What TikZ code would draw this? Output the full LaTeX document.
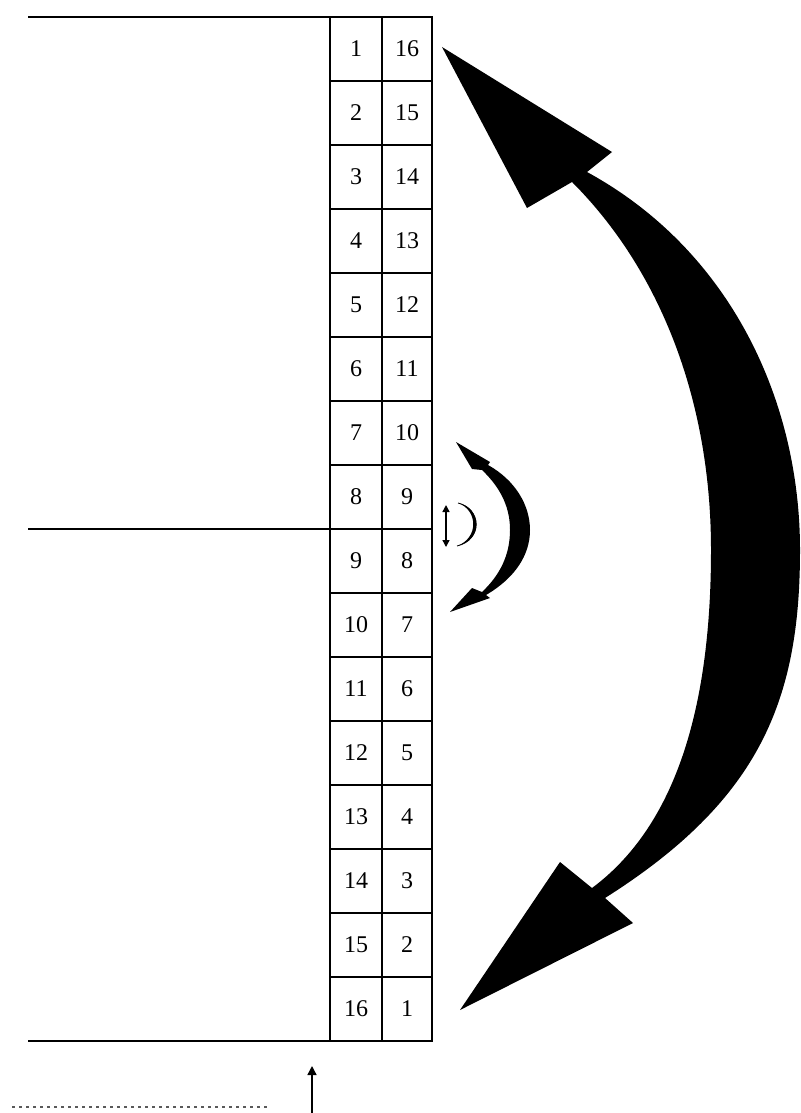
\documentclass[tikz,border=0pt]{standalone}
\usepackage{fontspec}
\setmainfont{Liberation Serif}
\usetikzlibrary{arrows.meta}
\begin{document}
\begin{tikzpicture}[x=1pt,y=-1pt,
  cell/.style={draw, line width=1.6pt, minimum height=64pt, inner sep=0pt, outer sep=0pt, font=\fontsize{24}{28}\selectfont},
  lcell/.style={cell, minimum width=52pt},
  rcell/.style={cell, minimum width=50pt},
  rule/.style={line width=1.8pt},
  bigfill/.style={fill=black}]
\useasboundingbox (0,0) rectangle (800,1113);
\foreach \i in {1,...,16} {
  \pgfmathtruncatemacro\j{17-\i}
  \node[lcell] (L\i) at (356,{17+64*(\i-0.5)}) {\i};
  \node[rcell] (R\i) at (407,{17+64*(\i-0.5)}) {\j};
}
% horizontal rules
\coordinate (tl) at (28,17);
\coordinate (ml) at (28,529);
\coordinate (bl) at (28,1041);
\draw[rule] (tl) -- (R1.north east);
\draw[rule] (ml) -- (L9.north west);
\draw[rule] (bl) -- (R16.south east);
% big curved double arrow
\fill[bigfill] (442,47) -- (527,208) -- (572,182)
  .. controls (660,270) and (711,400) .. (711,550)
  .. controls (711,720) and (670,830) .. (592,888)
  -- (560,862) -- (460,1010) -- (633,923) -- (605,898)
  .. controls (760,800) and (800,700) .. (800,550)
  .. controls (800,400) and (730,250) .. (587,172)
  -- (612,152) -- cycle;
% medium curved double arrow
\fill[bigfill] (456,442) -- (472,469) -- (482,470)
  .. controls (503,490) and (510,510) .. (510,530)
  .. controls (510,555) and (500,575) .. (482,592)
  -- (472,588) -- (450,612) -- (490,598) -- (486,595)
  .. controls (515,578) and (530,555) .. (530,530)
  .. controls (530,505) and (515,480) .. (488,465)
  -- (490,462) -- cycle;
% small vertical double arrow
\coordinate (sa) at (446,505);
\coordinate (sb) at (446,547);
\draw[line width=1.4pt, {Triangle[width=7pt,length=7pt]}-{Triangle[width=7pt,length=7pt]}] (sa) -- (sb);
% small crescent
\fill (458,503) .. controls (482,508) and (484,540) .. (457,546)
  .. controls (479,538) and (478,510) .. (458,503) -- cycle;
\draw[line width=0.8pt] (458,503) .. controls (481,508) and (483,540) .. (457,546);
% bottom arrow and dotted line
\coordinate (ua) at (312,1113);
\coordinate (ub) at (312,1066);
\draw[line width=1.4pt, -{Triangle[width=9pt,length=9pt]}] (ua) -- (ub);
\coordinate (d1) at (12,1107);
\coordinate (d2) at (267,1107);
\draw[line width=2pt, dash pattern=on 3pt off 4pt, gray!70!black] (d1) -- (d2);
\end{tikzpicture}
\end{document}
